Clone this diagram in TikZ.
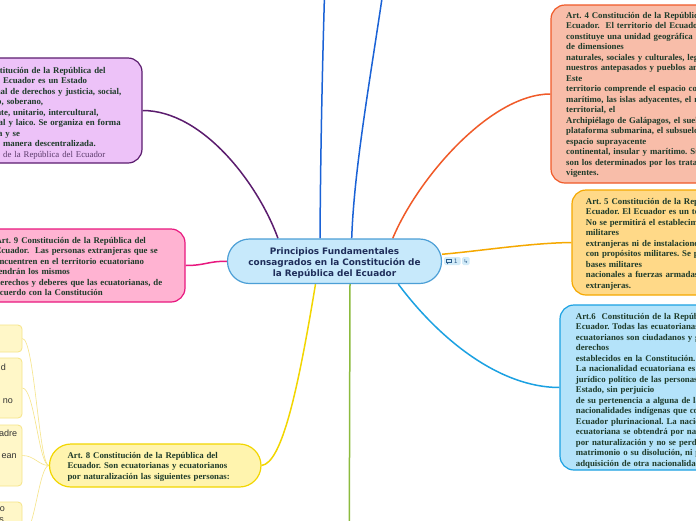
\documentclass[tikz,border=0pt]{standalone}
\usepackage{fontspec}
\setmainfont{Liberation Serif}
\newfontfamily\centerfont{DejaVu Sans}
\newfontfamily\fragfont{Liberation Sans}
\definecolor{purplefill}{HTML}{EDC2F8}
\definecolor{purpleline}{HTML}{5B1C6E}
\definecolor{pinkfill}{HTML}{FFB3D2}
\definecolor{pinkline}{HTML}{E8187F}
\definecolor{ctrfill}{HTML}{C7E9FB}
\definecolor{ctrline}{HTML}{4C9FD6}
\definecolor{ctrtext}{HTML}{1F2E5A}
\definecolor{redfill}{HTML}{F8BDA9}
\definecolor{redline}{HTML}{F05A28}
\definecolor{orangefill}{HTML}{FFD988}
\definecolor{orangeline}{HTML}{F5A800}
\definecolor{cyanfill}{HTML}{B4E3FA}
\definecolor{cyanline}{HTML}{1BA1E2}
\definecolor{yellowfill}{HTML}{FFF4AE}
\definecolor{yellowline}{HTML}{F2D600}
\definecolor{paleyfill}{HTML}{FFF7C8}
\definecolor{paleyline}{HTML}{F6E487}
\definecolor{bluelink}{HTML}{1A62D6}
\definecolor{greenlink}{HTML}{8CBB3E}
\definecolor{boxtext}{HTML}{1E3B2A}
\definecolor{subtext}{HTML}{5A3A6A}
\definecolor{fragtext}{HTML}{333333}
\definecolor{iconfill}{HTML}{D2EBF8}
\definecolor{icondark}{HTML}{2B5C8C}
\pgfdeclarelayer{bg}
\pgfsetlayers{bg,main}
\frenchspacing
\tikzset{
  topicbox/.style={rectangle, inner sep=0pt, line width=1.2pt, rounded corners=14pt},
  boxtxt/.style={anchor=base west, inner sep=0pt, text width=280pt, align=left, text=boxtext,
    font=\fontsize{8.8}{10.5}\selectfont\bfseries\frenchspacing},
  mainlink/.style={line width=1.5pt},
  sublink/.style={line width=0.6pt, draw=paleyline},
  smallbox/.style={rectangle, rounded corners=4pt, draw=paleyline, fill=paleyfill, line width=0.8pt,
    inner sep=0pt, minimum width=102pt},
  fragtxt/.style={anchor=base east, inner sep=0pt, text=fragtext, font=\fragfont\fontsize{9}{10.5}\selectfont},
  iconbox/.style={rectangle, rounded corners=1.5pt, fill=iconfill, inner sep=0pt, minimum height=8pt},
}
\begin{document}
\begin{tikzpicture}[x=1pt,y=-1pt]
\useasboundingbox (0,0) rectangle (696,520);

% central topic
\node[topicbox, rounded corners=22pt, draw=ctrline, fill=ctrfill, minimum width=214pt, minimum height=44.5pt] (c) at (334.5,261.25) {};
\node[anchor=base, inner sep=0pt, text width=210pt, align=center, text=ctrtext,
  font=\centerfont\bfseries\fontsize{8.9}{11}\selectfont] (ctxt) at (334.5,254)
  {Principios Fundamentales\\consagrados en la Constitución de\\la República del Ecuador};

% icons
\node[iconbox, minimum width=16.5pt] (ic1) at (452.3,261) {};
\draw[icondark, line width=0.6pt] (446.3,259.2) rectangle (451.3,262.4);
\draw[icondark, line width=0.6pt] (447.3,262.4) -- (447.3,263.6) -- (448.5,262.4);
\node[inner sep=0pt, text=icondark, font=\centerfont\fontsize{6}{6}\selectfont] (ic1t) at (455.8,261.2) {1};
\node[iconbox, minimum width=7.5pt] (ic2) at (465.8,261) {};
\node[inner sep=0pt, text=icondark, font=\centerfont\fontsize{5.5}{6}\selectfont] (ic2t) at (465.8,261.2) {↳};

% Art 1 (purple)
\node[topicbox, draw=purpleline, fill=purplefill, minimum width=202pt, minimum height=105pt] (p1) at (41,110.5) {};
\node[boxtxt] (t1) at (-45,73) {Art. 1 Constitución de la República del\\
Ecuador. El Ecuador es un Estado\\
constitucional de derechos y justicia, social,\\
democrático, soberano,\\
independiente, unitario, intercultural,\\
plurinacional y laico. Se organiza en forma\\
de república y se\\
gobierna de manera descentralizada.\\
{\mdseries\color{subtext}Constitución de la República del Ecuador}};

% Art 9 (pink)
\node[topicbox, draw=pinkline, fill=pinkfill, minimum width=205pt, minimum height=73pt] (p9) at (82.5,265.5) {};
\node[boxtxt] (t9) at (-4.6,243) {Art. 9 Constitución de la República del\\
Ecuador.\ \ Las personas extranjeras que se\\
encuentren en el territorio ecuatoriano\\
tendrán los mismos\\
derechos y deberes que las ecuatorianas, de\\
acuerdo con la Constitución};

% Art 4 (red)
\node[topicbox, draw=redline, fill=redfill, minimum width=209pt, minimum height=178pt] (p4) at (655.5,94) {};
\node[boxtxt] (t4) at (566,18) {Art. 4 Constitución de la República del\\
Ecuador.\ \ El territorio del Ecuador\\
constituye una unidad geográfica e histórica\\
de dimensiones\\
naturales, sociales y culturales, legado de\\
nuestros antepasados y pueblos ancestrales.\\
Este\\
territorio comprende el espacio continental y\\
marítimo, las islas adyacentes, el mar\\
territorial, el\\
Archipiélago de Galápagos, el suelo, la\\
plataforma submarina, el subsuelo y el\\
espacio suprayacente\\
continental, insular y marítimo. Sus límites\\
son los determinados por los tratados\\
vigentes.};

% Art 5 (orange)
\node[topicbox, draw=orangeline, fill=orangefill, minimum width=208pt, minimum height=105pt] (p5) at (676,242.5) {};
\node[boxtxt] (t5) at (585.7,204) {Art. 5 Constitución de la República del\\
Ecuador. El Ecuador es un territorio de paz.\\
No se permitirá el establecimiento de bases\\
militares\\
extranjeras ni de instalaciones extranjeras\\
con propósitos militares. Se prohíbe ceder\\
bases militares\\
nacionales a fuerzas armadas o de seguridad\\
extranjeras.};

% Art 6 (cyan)
\node[topicbox, draw=cyanline, fill=cyanfill, minimum width=220pt, minimum height=165pt] (p6) at (670,387.5) {};
\node[boxtxt] (t6) at (575.7,319) {Art.6\ \ Constitución de la República del\\
Ecuador. Todas las ecuatorianas y los\\
ecuatorianos son ciudadanos y gozarán de los\\
derechos\\
establecidos en la Constitución.\\
La nacionalidad ecuatoriana es el vínculo\\
jurídico político de las personas con el\\
Estado, sin perjuicio\\
de su pertenencia a alguna de las\\
nacionalidades indígenas que coexisten en el\\
Ecuador plurinacional. La nacionalidad\\
ecuatoriana se obtendrá por nacimiento o\\
por naturalización y no se perderá por el\\
matrimonio o su disolución, ni por la\\
adquisición de otra nacionalidad.};

% Art 8 (yellow)
\node[topicbox, rounded corners=21.5pt, draw=yellowline, fill=yellowfill, minimum width=211.5pt, minimum height=43pt] (p8) at (155.25,465.5) {};
\node[boxtxt] (t8) at (67.3,458) {Art. 8 Constitución de la República del\\
Ecuador. Son ecuatorianas y ecuatorianos\\
por naturalización las siguientes personas:};

% Art 8 sub-items
\node[smallbox, minimum height=27pt] (sa) at (-29,338.5) {};
\node[smallbox, minimum height=60pt] (sb) at (-29,388) {};
\node[smallbox, minimum height=61pt] (sc) at (-29,455.5) {};
\node[smallbox, minimum height=68pt] (sd) at (-29,536) {};
\node[fragtxt] (fb1) at (6,370) {d};
\node[fragtxt] (fb2) at (13.2,403) {no};
\node[fragtxt] (fc1) at (17.3,436) {adre};
\node[fragtxt] (fc2) at (16.8,458) {ean};
\node[fragtxt] (fd1) at (5,511) {o};
\node[fragtxt] (fd2) at (4,522) {s};

% off-canvas ends
\coordinate (top1) at (324.5,-5);
\coordinate (top2) at (382.5,-5);
\coordinate (bot1) at (349.3,525);

\begin{pgfonlayer}{bg}
\fill[white] (0,0) rectangle (696,520);
\draw[mainlink, purpleline] (p1.east) .. controls +(60,0) and +(-20,-55) .. ([xshift=-56.5pt]c.north);
\draw[mainlink, pinkline] (p9.east) .. controls +(20,0) and +(-20,0) .. (c.west);
\draw[mainlink, bluelink] ([xshift=-14.5pt]c.north) .. controls (320.5,160) and (322,80) .. (top1);
\draw[mainlink, bluelink] ([xshift=17.2pt]c.north) .. controls (354,170) and (370,80) .. (top2);
\draw[mainlink, redline] ([xshift=58.2pt]c.north) .. controls +(25,-60) and +(-60,0) .. (p4.west);
\draw[mainlink, orangeline] ([yshift=7pt]c.east) .. controls (480,251) and (530,243) .. (p5.west);
\draw[mainlink, cyanline] ([xshift=63.8pt]c.south) .. controls (440,340) and (500,387.5) .. (p6.west);
\draw[mainlink, greenlink] ([xshift=15.5pt]c.south) -- (bot1);
\draw[mainlink, yellowline] ([xshift=-19pt]c.south) .. controls (298,390) and (282,463) .. (p8.east);
\draw[sublink] (sa.east) .. controls +(12,0) and +(-10,0) .. (p8.west);
\draw[sublink] (sb.east) .. controls +(12,0) and +(-10,0) .. (p8.west);
\draw[sublink] (sc.east) .. controls +(12,0) and +(-10,0) .. (p8.west);
\draw[sublink] (sd.east) .. controls +(12,0) and +(-10,0) .. (p8.west);
\end{pgfonlayer}
\end{tikzpicture}
\end{document}
